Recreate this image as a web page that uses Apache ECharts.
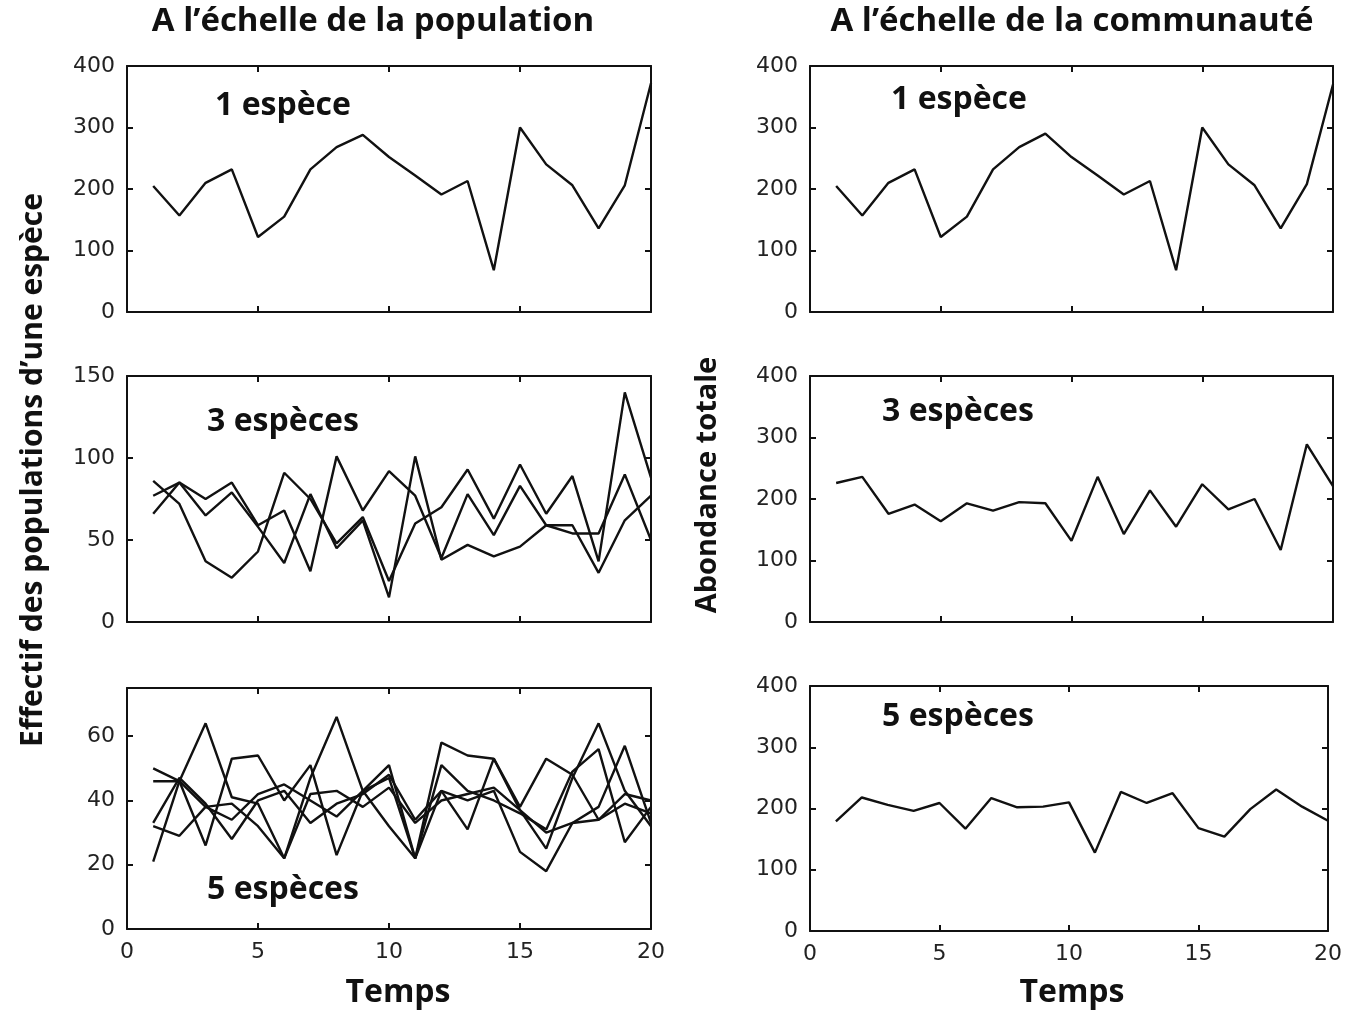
<!DOCTYPE html>
<html>
<head>
<meta charset="utf-8">
<script src="https://cdn.jsdelivr.net/npm/echarts@6/dist/echarts.min.js"></script>
<style>
html,body{margin:0;padding:0;background:#fff;}
#chart{width:1345px;height:1011px;}
</style>
</head>
<body>
<div id="chart"></div>
<script>
// ---- data ----
const temps = [1,2,3,4,5,6,7,8,9,10,11,12,13,14,15,16,17,18,19,20];

// population scale: 1 species
const pop1 = [205,157,210,232,122,155,232,268,288,252,222,191,213,68,300,240,206,136,206,372];

// population scale: 3 species
const pop3a = [86,72,37,27,43,91,75,48,64,25,60,70,93,63,96,66,89,37,140,88];
const pop3b = [77,85,75,85,59,68,31,101,68,92,77,39,78,53,83,59,54,54,90,50];
const pop3c = [66,85,65,79,58,36,78,45,62,15,101,38,47,40,46,59,59,30,62,77];

// population scale: 5 species
const pop5a = [21,46,64,41,39,22,47,66,43,32,22,58,54,53,37,25,47,64,43,32];
const pop5b = [50,46,38,34,42,45,40,35,43,47,22,51,43,40,36,31,49,56,27,38];
const pop5c = [46,46,26,53,54,40,51,23,43,51,22,43,40,43,24,18,33,38,57,33];
const pop5d = [33,47,39,28,40,43,33,39,42,48,34,43,31,53,38,53,48,34,42,40];
const pop5e = [32,29,38,39,32,22,42,43,38,44,33,40,42,44,37,30,33,34,39,36];

// community scale: total abundance
const com1 = [205,157,210,232,122,155,232,268,290,252,222,191,213,68,300,240,206,136,208,370];
const com3 = [226,236,176,191,164,193,181,195,193,132,236,143,214,155,224,183,200,117,289,221];
const com5 = [179,218,206,196,209,167,217,202,203,210,128,227,209,225,168,154,199,231,203,180];

// texts
const titlePop = "A l\u2019\u00e9chelle de la population";
const titleCom = "A l\u2019\u00e9chelle de la communaut\u00e9";
const yLabelPop = "Effectif des populations d\u2019une esp\u00e8ce";
const yLabelCom = "Abondance totale";
const xLabel = "Temps";
const panelLabels = ["1 esp\u00e8ce", "3 esp\u00e8ces", "5 esp\u00e8ces"];

// ---- chart ----
const chart = echarts.init(document.getElementById('chart'), null, {renderer:'canvas'});

const grids = [
  {left:127, top:66,  width:524, height:246},  // 0 pop 1
  {left:127, top:376, width:524, height:246},  // 1 pop 3
  {left:127, top:688, width:524, height:241},  // 2 pop 5
  {left:810, top:66,  width:523, height:246},  // 3 com 1
  {left:810, top:376, width:523, height:246},  // 4 com 3
  {left:810, top:686, width:523, height:245}   // 5 com 5
];
const yRanges = [
  {max:400, interval:100},
  {max:150, interval:50},
  {max:75, interval:20},
  {max:400, interval:100},
  {max:400, interval:100},
  {max:400, interval:100}
];
const lineStyleAxis = {color:'#111', width:2};
const tickFont = {fontFamily:'"DejaVu Sans", sans-serif', fontSize:22, color:'#222'};

const xAxes = [], yAxes = [];
grids.forEach((g, i) => {
  const bottomRow = (i === 2 || i === 5);
  xAxes.push({
    gridIndex:i, type:'value', min:0, max:20, interval:5, position:'bottom',
    axisLine:{show:true, onZero:false, lineStyle:lineStyleAxis},
    axisTick:{show:true, inside:true, length:6, lineStyle:lineStyleAxis},
    axisLabel:{show:bottomRow, margin:12, ...tickFont},
    splitLine:{show:false}
  });
  xAxes.push({
    gridIndex:i, type:'value', min:0, max:20, interval:5, position:'top',
    axisLine:{show:true, onZero:false, lineStyle:lineStyleAxis},
    axisTick:{show:true, inside:true, length:6, lineStyle:lineStyleAxis},
    axisLabel:{show:false}, splitLine:{show:false}
  });
  yAxes.push({
    gridIndex:i, type:'value', min:0, max:yRanges[i].max, interval:yRanges[i].interval, position:'left',
    axisLine:{show:true, onZero:false, lineStyle:lineStyleAxis},
    axisTick:{show:true, inside:true, length:6, lineStyle:lineStyleAxis},
    axisLabel:{show:true, margin:12, showMaxLabel: yRanges[i].max % yRanges[i].interval === 0, ...tickFont},
    splitLine:{show:false}
  });
  yAxes.push({
    gridIndex:i, type:'value', min:0, max:yRanges[i].max, interval:yRanges[i].interval, position:'right',
    axisLine:{show:true, onZero:false, lineStyle:lineStyleAxis},
    axisTick:{show:true, inside:true, length:6, lineStyle:lineStyleAxis},
    axisLabel:{show:false}, splitLine:{show:false}
  });
});

function pairs(arr){ return temps.map((t, k) => [t, arr[k]]); }
function mkSeries(arr, gi){
  return {
    type:'line', xAxisIndex:gi*2, yAxisIndex:gi*2, data:pairs(arr),
    symbol:'none', smooth:false, silent:true,
    lineStyle:{color:'#111', width:2.4}, itemStyle:{color:'#111'}
  };
}
const series = [
  mkSeries(pop1, 0),
  mkSeries(pop3a, 1), mkSeries(pop3b, 1), mkSeries(pop3c, 1),
  mkSeries(pop5a, 2), mkSeries(pop5b, 2), mkSeries(pop5c, 2), mkSeries(pop5d, 2), mkSeries(pop5e, 2),
  mkSeries(com1, 3), mkSeries(com3, 4), mkSeries(com5, 5)
];

const headFont = 'bold 33px "Open Sans", sans-serif';
const yNameFont = 'bold 30px "Open Sans", sans-serif';
const yNameFont2 = 'bold 29px "Open Sans", sans-serif';
const xNameFont = 'bold 32px "Open Sans", sans-serif';
const panelFont = 'bold 32px "Open Sans", sans-serif';
function txt(text, x, y, font, rot){
  return {type:'text', x:x, y:y, rotation:rot||0, silent:true,
    style:{text:text, font:font, fill:'#111', textAlign:'center', textVerticalAlign:'middle'}};
}
const graphics = [
  txt(titlePop, 373, 22, headFont),
  txt(titleCom, 1072, 22, headFont),
  txt(xLabel, 398, 993, xNameFont),
  txt(xLabel, 1072, 993, xNameFont),
  txt(yLabelPop, 33, 470, yNameFont, Math.PI/2),
  txt(yLabelCom, 708, 485, yNameFont2, Math.PI/2),
  txt(panelLabels[0], 283, 106, panelFont),
  txt(panelLabels[1], 283, 422, panelFont),
  txt(panelLabels[2], 283, 890, panelFont),
  txt(panelLabels[0], 959, 100, panelFont),
  txt(panelLabels[1], 958, 412, panelFont),
  txt(panelLabels[2], 958, 717, panelFont)
];

chart.setOption({
  animation:false,
  backgroundColor:'#fff',
  grid:grids,
  xAxis:xAxes,
  yAxis:yAxes,
  series:series,
  graphic:graphics
});
</script>
</body>
</html>
